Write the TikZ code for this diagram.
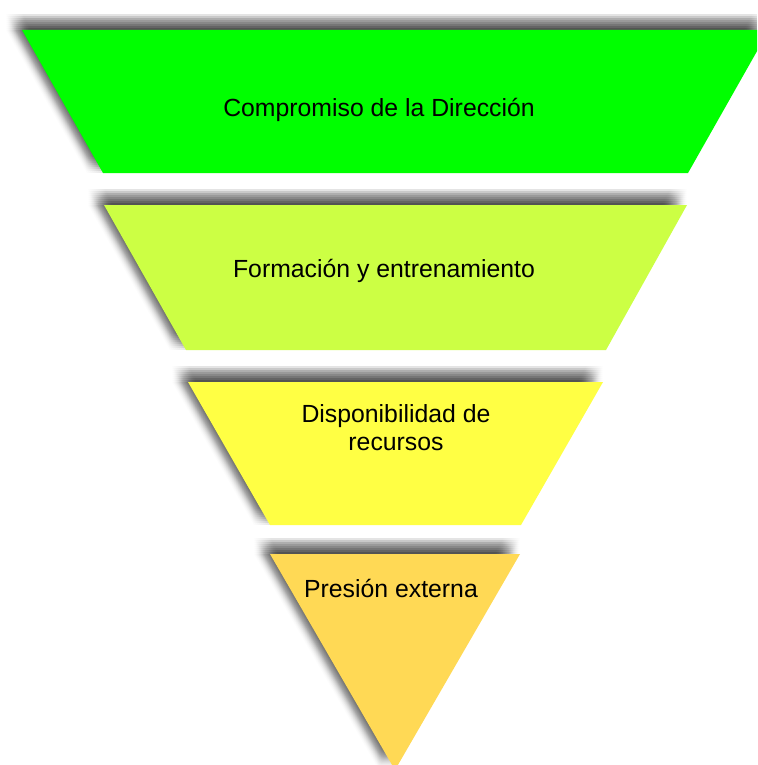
\documentclass[tikz,border=0pt]{standalone}
\usepackage{fontspec}
\setmainfont{Liberation Sans}
\definecolor{bandA}{HTML}{00FF00}
\definecolor{bandB}{HTML}{CCFF44}
\definecolor{bandC}{HTML}{FFFF44}
\definecolor{bandD}{HTML}{FFD955}
\newcommand\softshadow[1]{%
  \foreach \dx in {-8,-6,-4,-2,0,2,4,6,8}{%
    \foreach \dy in {-8,-6,-4,-2,0,2,4,6,8}{%
      \fill[black,fill opacity=0.012,shift={(\dx-8,\dy-8)}] #1;
    }}}
\tikzset{
  lbl/.style={font=\fontsize{24.8}{28}\selectfont, text=black, inner sep=0pt, anchor=base, align=center}
}
\begin{document}
\begin{tikzpicture}[x=1pt,y=-1pt]
\useasboundingbox (0,0) rectangle (757,765);
\fill[white] (0,0) rectangle (757,765);
\clip (0,0) rectangle (757,765);
% band 1
\softshadow{(22,30) -- (769,30) -- (688,173) -- (103,173) -- cycle}
\fill[bandA] (22,30) -- (769,30) -- (688,173) -- (103,173) -- cycle;
% band 2
\softshadow{(104,205) -- (687,205) -- (606,350) -- (186,350) -- cycle}
\fill[bandB] (104,205) -- (687,205) -- (606,350) -- (186,350) -- cycle;
% band 3
\softshadow{(188,382) -- (603,382) -- (521,525) -- (270,525) -- cycle}
\fill[bandC] (188,382) -- (603,382) -- (521,525) -- (270,525) -- cycle;
% band 4
\softshadow{(270,554) -- (520,554) -- (395,770) -- cycle}
\fill[bandD] (270,554) -- (520,554) -- (395,770) -- cycle;
% labels
\node[lbl] (t1) at (379,116.5) {Compromiso de la Dirección};
\node[lbl] (t2) at (384,277) {Formación y entrenamiento};
\node[lbl] (t3) at (396,450) {Disponibilidad de\\recursos};
\node[lbl] (t4) at (391,597) {Presión externa};
\end{tikzpicture}
\end{document}
